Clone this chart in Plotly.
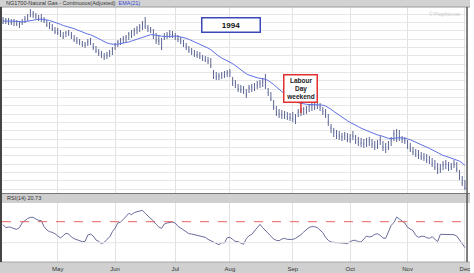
import pandas as pd
import plotly.graph_objects as go

# ---------------- data ----------------
holidays = ["1994-05-30", "1994-07-04", "1994-09-05", "1994-11-24"]
dates = [d.strftime("%Y-%m-%d") for d in pd.bdate_range("1994-04-04", "1994-12-01")
         if d.strftime("%Y-%m-%d") not in holidays]

high = [
    2.415, 2.41, 2.41, 2.405, 2.405, 2.40, 2.395, 2.405, 2.42, 2.43, 2.455, 2.445, 2.435, 2.425, 2.43, 2.415, 2.40, 2.39, 2.38, 2.365,
    2.36, 2.35, 2.34, 2.345, 2.35, 2.34, 2.325, 2.315, 2.305, 2.295, 2.29, 2.305, 2.31, 2.285, 2.27, 2.255, 2.245, 2.235, 2.24, 2.25, 2.265,
    2.285, 2.30, 2.31, 2.32, 2.325, 2.34, 2.35, 2.36, 2.37, 2.38, 2.395, 2.415, 2.375, 2.365, 2.355, 2.335, 2.325, 2.31, 2.335, 2.34, 2.35, 2.345,
    2.335, 2.325, 2.315, 2.30, 2.285, 2.27, 2.26, 2.25, 2.245, 2.24, 2.225, 2.22, 2.215, 2.21, 2.15, 2.14, 2.135, 2.14, 2.145, 2.15,
    2.155, 2.115, 2.10, 2.08, 2.075, 2.07, 2.055, 2.075, 2.08, 2.085, 2.095, 2.10, 2.11, 2.13, 2.06, 2.04, 2.00, 1.97, 1.955, 1.95, 1.945, 1.94, 1.935,
    1.94, 1.93, 1.955, 1.96, 1.965, 1.97, 1.98, 1.985, 1.99, 1.995, 1.985, 1.965, 1.955, 1.93, 1.88, 1.86, 1.85, 1.845, 1.835, 1.84, 1.835,
    1.83, 1.845, 1.825, 1.815, 1.81, 1.805, 1.81, 1.815, 1.805, 1.795, 1.80, 1.82, 1.795, 1.785, 1.795, 1.815, 1.85, 1.855, 1.85, 1.82, 1.815,
    1.80, 1.785, 1.765, 1.755, 1.75, 1.74, 1.735, 1.73, 1.72, 1.71, 1.70, 1.685, 1.68, 1.695, 1.70, 1.69, 1.685, 1.70, 1.69, 1.65, 1.62,
    1.60,
]
low = [
    2.38, 2.38, 2.375, 2.375, 2.37, 2.37, 2.36, 2.375, 2.385, 2.395, 2.415, 2.41, 2.405, 2.395, 2.39, 2.385, 2.365, 2.355, 2.345, 2.33,
    2.325, 2.315, 2.305, 2.315, 2.32, 2.305, 2.29, 2.28, 2.275, 2.265, 2.26, 2.27, 2.275, 2.25, 2.235, 2.22, 2.21, 2.20, 2.205, 2.215, 2.225,
    2.25, 2.265, 2.275, 2.285, 2.29, 2.30, 2.31, 2.32, 2.33, 2.34, 2.35, 2.355, 2.34, 2.335, 2.305, 2.28, 2.275, 2.25, 2.30, 2.305, 2.31, 2.31,
    2.30, 2.29, 2.28, 2.265, 2.25, 2.235, 2.225, 2.215, 2.21, 2.205, 2.195, 2.19, 2.18, 2.16, 2.105, 2.10, 2.10, 2.105, 2.11, 2.115,
    2.115, 2.07, 2.06, 2.04, 2.035, 2.03, 2.01, 2.035, 2.04, 2.045, 2.055, 2.06, 2.065, 2.055, 2.02, 1.995, 1.95, 1.92, 1.91, 1.905, 1.905, 1.90, 1.895,
    1.89, 1.88, 1.915, 1.92, 1.925, 1.93, 1.94, 1.945, 1.95, 1.955, 1.945, 1.925, 1.91, 1.87, 1.835, 1.815, 1.805, 1.80, 1.795, 1.80, 1.79,
    1.785, 1.80, 1.78, 1.77, 1.765, 1.76, 1.765, 1.77, 1.76, 1.75, 1.755, 1.775, 1.745, 1.735, 1.75, 1.77, 1.795, 1.79, 1.795, 1.785, 1.78,
    1.755, 1.74, 1.725, 1.715, 1.705, 1.70, 1.695, 1.685, 1.68, 1.665, 1.65, 1.63, 1.635, 1.65, 1.655, 1.645, 1.65, 1.66, 1.64, 1.60, 1.57,
    1.55,
]
close = [
    2.395, 2.40, 2.39, 2.385, 2.395, 2.38, 2.37, 2.39, 2.405, 2.42, 2.44, 2.43, 2.42, 2.41, 2.405, 2.395, 2.375, 2.365, 2.355, 2.34,
    2.335, 2.325, 2.315, 2.335, 2.34, 2.32, 2.30, 2.295, 2.285, 2.28, 2.275, 2.29, 2.295, 2.265, 2.245, 2.235, 2.225, 2.215, 2.225, 2.235, 2.255,
    2.275, 2.29, 2.30, 2.305, 2.315, 2.33, 2.34, 2.345, 2.355, 2.365, 2.375, 2.37, 2.36, 2.35, 2.32, 2.30, 2.295, 2.28, 2.315, 2.325, 2.33, 2.33,
    2.315, 2.305, 2.295, 2.28, 2.265, 2.25, 2.24, 2.23, 2.225, 2.215, 2.21, 2.20, 2.195, 2.17, 2.12, 2.115, 2.12, 2.125, 2.13, 2.135,
    2.14, 2.085, 2.075, 2.055, 2.05, 2.045, 2.025, 2.06, 2.065, 2.07, 2.075, 2.085, 2.09, 2.07, 2.035, 2.005, 1.965, 1.94, 1.93, 1.925, 1.92, 1.915, 1.91,
    1.905, 1.895, 1.94, 1.95, 1.955, 1.96, 1.97, 1.975, 1.98, 1.985, 1.965, 1.945, 1.93, 1.89, 1.86, 1.84, 1.83, 1.82, 1.815, 1.825, 1.81,
    1.805, 1.82, 1.80, 1.79, 1.785, 1.78, 1.79, 1.795, 1.78, 1.77, 1.775, 1.80, 1.765, 1.755, 1.77, 1.80, 1.83, 1.825, 1.815, 1.805, 1.795,
    1.77, 1.755, 1.74, 1.73, 1.72, 1.715, 1.71, 1.70, 1.695, 1.68, 1.665, 1.65, 1.655, 1.675, 1.68, 1.67, 1.665, 1.68, 1.655, 1.615, 1.585,
    1.56,
]
rsi = [
    64.3, 58.6, 59.8, 59.2, 56.7, 55.4, 58.6, 68.1, 71.9, 76.3, 78.3, 78.3, 75.1, 72.5, 71.9, 60.5, 54.1, 51.0, 49.7, 47.1,
    42.7, 38.9, 43.3, 47.8, 46.5, 40.8, 37.6, 35.7, 33.8, 31.9, 32.5, 44.6, 46.5, 42.7, 35.1, 32.5, 28.1, 30.6, 36.3, 40.8, 51.0,
    57.9, 67.5, 69.4, 74.4, 80.8, 85.9, 83.3, 87.1, 89.0, 90.3, 91.6, 85.9, 81.4, 77.6, 71.3, 64.9, 59.8, 57.3, 65.6, 67.5, 68.1, 69.4,
    67.5, 61.1, 57.9, 54.8, 50.3, 47.1, 46.5, 45.2, 44.0, 42.7, 41.4, 40.2, 36.3, 33.8, 30.0, 27.5, 26.2, 30.0, 29.4, 39.5,
    40.2, 36.3, 32.5, 31.9, 28.7, 26.8, 37.6, 43.3, 45.9, 51.6, 58.6, 64.9, 58.6, 53.5, 47.8, 41.4, 37.0, 34.4, 33.8, 37.0, 38.3, 36.3, 36.3,
    36.3, 38.3, 41.4, 45.2, 50.3, 54.8, 59.2, 60.5, 60.5, 58.6, 53.5, 49.0, 40.2, 34.4, 31.3, 30.0, 30.0, 30.0, 29.4, 28.7, 28.1,
    31.9, 34.4, 34.4, 31.9, 31.3, 37.0, 42.7, 40.8, 42.1, 45.9, 47.1, 44.0, 38.9, 38.3, 51.6, 63.0, 68.1, 78.9, 75.1, 71.3, 67.5,
    59.2, 55.4, 52.9, 44.0, 40.2, 42.1, 42.1, 39.5, 38.3, 41.4, 36.3, 31.9, 45.9, 45.9, 45.9, 45.9, 45.9, 45.2, 42.7, 35.1, 30.0,
    20.73,
]
month_ticks = ["1994-05-02", "1994-06-01", "1994-07-01", "1994-08-01",
               "1994-09-01", "1994-10-03", "1994-11-01", "1994-12-01"]
month_labels = ["May", "Jun", "Jul", "Aug", "Sep", "Oct", "Nov", "Dec"]
ema = pd.Series(close).ewm(span=21, adjust=False).mean().tolist()
callout_date = "1994-09-07"
callout_price = 1.935

# ---------------- figure ----------------
W, H = 474, 273
def py(p):  # pixel-from-top -> paper
    return 1 - p / H

fig = go.Figure()
fig.add_trace(go.Ohlc(x=dates, open=close, high=high, low=low, close=close,
                      increasing=dict(line=dict(color="#5c6694", width=1)),
                      decreasing=dict(line=dict(color="#5c6694", width=1)),
                      tickwidth=0.15, xaxis="x", yaxis="y", showlegend=False))
fig.add_trace(go.Scatter(x=dates, y=ema, mode="lines", line=dict(color="#6070e4", width=1),
                         xaxis="x", yaxis="y", showlegend=False))
fig.add_trace(go.Scatter(x=dates, y=rsi, mode="lines", line=dict(color="#6a6c9c", width=1),
                         xaxis="x2", yaxis="y2", showlegend=False))

xd = [2 / W, 470 / W]
common_x = dict(type="category", domain=xd, range=[-0.4, len(dates) - 0.6],
                tickvals=month_ticks, ticktext=month_labels, showgrid=True,
                gridcolor="#e2e2e2", gridwidth=1, zeroline=False, ticks="",
                rangeslider=dict(visible=False), showline=False)
fig.update_layout(
    width=W, height=H, margin=dict(l=0, r=0, t=0, b=0),
    paper_bgcolor="white", plot_bgcolor="white",
    xaxis=dict(common_x, anchor="y", showticklabels=False),
    yaxis=dict(domain=[py(193), py(7)], range=[2.5 - 193 / 200, 2.5 - 7 / 200],
               tick0=2.18, dtick=1 / 24, showticklabels=False, showgrid=True,
               gridcolor="#e6e6e6", zeroline=False, ticks=""),
    xaxis2=dict(common_x, anchor="y2", showticklabels=True,
                tickfont=dict(size=6, color="#333", family="Liberation Sans"), ticklabelstandoff=2),
    yaxis2=dict(domain=[py(262), py(203)], range=[-6.8, 105.6], showticklabels=False,
                showgrid=False, zeroline=False, ticks=""),
    font=dict(family="Liberation Sans"),
)

shapes = []
# header strips
shapes.append(dict(type="rect", xref="paper", yref="paper", x0=0, x1=1, y0=py(7), y1=1,
                   fillcolor="#d2d2d2", line=dict(width=0), layer="above"))
shapes.append(dict(type="line", xref="paper", yref="paper", x0=0, x1=1, y0=py(7), y1=py(7),
                   line=dict(color="#9a9a9a", width=1)))
shapes.append(dict(type="rect", xref="paper", yref="paper", x0=0, x1=1, y0=py(203), y1=py(193),
                   fillcolor="#cfcfcf", line=dict(width=0), layer="above"))
shapes.append(dict(type="line", xref="paper", yref="paper", x0=0, x1=1, y0=py(193.5), y1=py(193.5),
                   line=dict(color="#777", width=1)))
shapes.append(dict(type="rect", xref="paper", yref="paper", x0=0, x1=1, y0=0, y1=py(262),
                   fillcolor="#d0d0d0", line=dict(width=0), layer="below"))
shapes.append(dict(type="line", xref="paper", yref="paper", x0=0, x1=1, y0=py(262), y1=py(262),
                   line=dict(color="#a8a8a8", width=1)))
# side borders
shapes.append(dict(type="line", xref="paper", yref="paper", x0=1 / W, x1=1 / W, y0=py(262), y1=py(7),
                   line=dict(color="#444", width=2)))
shapes.append(dict(type="line", xref="paper", yref="paper", x0=471 / W, x1=471 / W, y0=py(262), y1=py(7),
                   line=dict(color="#555", width=1.5)))
# RSI levels
shapes.append(dict(type="line", xref="x2 domain", yref="y2", x0=0, x1=1, y0=70, y1=70,
                   line=dict(color="#e86060", width=1, dash="dash")))
shapes.append(dict(type="line", xref="x2 domain", yref="y2", x0=0, x1=1, y0=30, y1=30,
                   line=dict(color="#e6e6e6", width=1)))
fig.update_layout(shapes=shapes)

ann = []
ann.append(dict(xref="paper", yref="paper", x=4 / W, y=py(3.5), xanchor="left", yanchor="middle",
                text="NG1700-Natural Gas - Continuous(Adjusted)  <span style='color:#3848d8'>EMA(21)</span>",
                showarrow=False, font=dict(size=5.5, color="#333")))
ann.append(dict(xref="paper", yref="paper", x=467 / W, y=py(13.5), xanchor="right", yanchor="middle",
                text="© Prophet.net", showarrow=False, font=dict(size=5, color="#c8c8c8")))
ann.append(dict(xref="paper", yref="paper", x=5 / W, y=py(198), xanchor="left", yanchor="middle",
                text="RSI(14) 20.73", showarrow=False, font=dict(size=5.5, color="#333")))
ann.append(dict(xref="paper", yref="paper", x=232.5 / W, y=py(24.5), xanchor="center", yanchor="middle",
                text="<b>1994</b>", showarrow=False, font=dict(size=8, color="#111"),
                bordercolor="#3a48b8", borderwidth=1.5, bgcolor="white", width=55, height=11, borderpad=1))
ann.append(dict(xref="x", yref="y", x=callout_date, y=callout_price, ax=0, ay=-25,
                text="<b>Labour<br>Day<br>weekend</b>", showarrow=True, arrowhead=0, arrowwidth=1.5,
                arrowcolor="#e03030", font=dict(size=6.5, color="#222"),
                bordercolor="#e03030", borderwidth=1.5, bgcolor="white", width=30, borderpad=1))
fig.update_layout(annotations=ann)

fig.write_html("out.html")
